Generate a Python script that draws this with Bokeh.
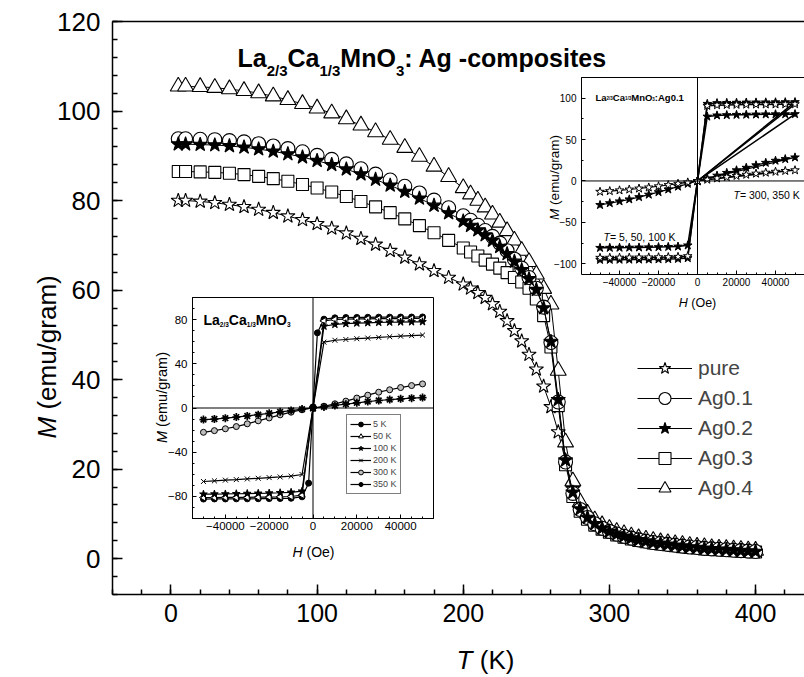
import math
from bokeh.plotting import figure
from bokeh.models import Range1d, FixedTicker, LinearAxis, Label, Legend, LegendItem, Span
from bokeh.embed import file_html
from bokeh.resources import INLINE

FONT = "Liberation Sans"

# ---------------- main plot data: M(T) ----------------
T_K = [5, 10, 20, 30, 40, 50, 60, 70, 80, 90, 100, 110, 120, 130, 140, 150, 160, 170, 180, 190, 200,
       205, 210, 215, 220, 225, 230, 235, 240, 245, 250,
       255, 260, 265, 270, 275, 280, 285, 290, 295, 300,
       305, 310, 315, 320, 325, 330, 335, 340, 345, 350,
       355, 360, 365, 370, 375, 380, 385, 390, 395, 400]

M_pure = [80.0, 80.0, 79.8, 79.5, 79.1, 78.6, 78.0, 77.3, 76.5, 75.7, 74.8, 73.8, 72.7, 71.5, 70.2, 68.8, 67.3, 65.8, 64.3, 62.8, 61.3,
          60.4, 59.4, 58.3, 56.9, 55.2, 53.1, 50.9, 48.6, 45.6, 42.3,
          38.5, 33.9, 28.3, 21.8, 15.6, 11.4, 9.1, 7.7, 6.7, 6.0,
          5.4, 4.9, 4.5, 4.1, 3.8, 3.5, 3.3, 3.1, 2.9, 2.7,
          2.5, 2.4, 2.2, 2.1, 2.0, 1.9, 1.8, 1.7, 1.6, 1.5]
M_ag01 = [93.8, 93.8, 93.7, 93.6, 93.4, 93.1, 92.7, 92.2, 91.6, 90.9, 90.1, 89.2, 88.2, 87.1, 85.9, 84.6, 83.2, 81.7, 80.1, 78.4, 76.6,
          75.6, 74.5, 73.3, 72.0, 70.5, 68.8, 66.9, 64.9, 62.8, 60.4,
          56.2, 48.3, 35.0, 21.6, 14.6, 11.0, 9.2, 7.8, 6.8, 6.1,
          5.5, 5.0, 4.6, 4.2, 3.9, 3.6, 3.4, 3.2, 3.0, 2.8,
          2.6, 2.5, 2.3, 2.2, 2.1, 2.0, 1.9, 1.8, 1.7, 1.6]
M_ag02 = [92.6, 92.6, 92.5, 92.4, 92.2, 91.9, 91.5, 91.0, 90.4, 89.7, 88.9, 88.0, 87.0, 85.9, 84.7, 83.4, 82.0, 80.5, 78.9, 77.2, 75.4,
          74.4, 73.4, 72.3, 71.1, 69.7, 68.1, 66.4, 64.5, 62.5, 60.1,
          56.0, 48.5, 35.5, 22.0, 14.8, 11.1, 9.2, 7.8, 6.8, 6.1,
          5.5, 5.0, 4.6, 4.2, 3.9, 3.6, 3.4, 3.2, 3.0, 2.8,
          2.6, 2.5, 2.3, 2.2, 2.1, 2.0, 1.9, 1.8, 1.7, 1.6]
M_ag03 = [86.5, 86.5, 86.4, 86.3, 86.1, 85.8, 85.4, 84.9, 84.3, 83.6, 82.8, 81.9, 80.9, 79.8, 78.6, 77.3, 75.9, 74.4, 72.8, 71.1, 69.4,
          68.5, 67.6, 66.7, 65.8, 64.9, 63.9, 62.8, 61.8, 60.4, 58.0,
          54.3, 47.3, 34.2, 21.0, 13.9, 10.6, 8.8, 7.5, 6.6, 5.9,
          5.3, 4.8, 4.4, 4.1, 3.8, 3.5, 3.3, 3.1, 2.9, 2.7,
          2.5, 2.4, 2.2, 2.1, 2.0, 1.9, 1.8, 1.7, 1.6, 1.5]
M_ag04 = [105.5, 105.5, 105.4, 105.2, 104.9, 104.5, 104.0, 103.3, 102.5, 101.6, 100.6, 99.5, 98.2, 96.8, 95.3, 93.6, 91.8, 89.8, 87.6, 85.3, 82.8,
          81.4, 80.0, 78.5, 76.9, 75.1, 73.2, 71.1, 68.8, 66.3, 63.5,
          60.3, 56.8, 42.0, 26.0, 17.3, 12.6, 10.1, 8.6, 7.5, 6.7,
          6.0, 5.5, 5.0, 4.6, 4.3, 4.0, 3.7, 3.5, 3.3, 3.1,
          2.9, 2.7, 2.6, 2.4, 2.3, 2.2, 2.1, 2.0, 1.9, 1.8]
series_names = ["pure", "Ag0.1", "Ag0.2", "Ag0.3", "Ag0.4"]
main_x_ticks = [0, 100, 200, 300, 400]
main_y_ticks = [0, 20, 40, 60, 80, 100, 120]

# ---------------- inset 1 data: pure sample M(H) ----------------
H1_5K = [-50000, -45000, -40000, -35000, -30000, -25000, -20000, -15000, -10000, -5000, -2000, 0,
         2000, 5000, 10000, 15000, 20000, 25000, 30000, 35000, 40000, 45000, 50000]
M1_5K = [-82.4, -82.3, -82.3, -82.2, -82.2, -82.1, -82.0, -81.9, -81.7, -80.4, -68.0, 1.0,
         68.0, 80.4, 81.6, 81.9, 82.0, 82.1, 82.2, 82.2, 82.3, 82.3, 82.4]
H1 = [-50000, -45000, -40000, -35000, -30000, -25000, -20000, -15000, -10000, -5000, 0,
      5000, 10000, 15000, 20000, 25000, 30000, 35000, 40000, 45000, 50000]
M1_50K = [-81.0, -81.0, -80.9, -80.9, -80.8, -80.7, -80.6, -80.4, -80.1, -78.8, 0.0,
          78.8, 80.1, 80.4, 80.6, 80.7, 80.8, 80.9, 80.9, 81.0, 81.0]
M1_100K = [-78.0, -77.9, -77.8, -77.6, -77.4, -77.2, -77.0, -76.7, -76.3, -75.3, 0.0,
           74.0, 75.6, 76.3, 76.8, 77.1, 77.4, 77.6, 77.8, 77.9, 78.0]
M1_200K = [-66.5, -65.9, -65.3, -64.8, -64.2, -63.6, -63.0, -62.4, -61.7, -60.2, 0.0,
           59.6, 61.3, 62.0, 62.7, 63.3, 63.9, 64.5, 65.0, 65.5, 66.0]
M1_300K = [-22.0, -20.5, -18.8, -16.8, -14.3, -11.6, -9.0, -6.2, -3.8, -1.6, 0.0,
           1.6, 3.8, 6.2, 9.0, 11.6, 14.3, 16.5, 18.5, 20.3, 21.8]
M1_350K = [-10.5, -10.0, -9.2, -8.2, -7.2, -6.0, -4.8, -3.5, -2.3, -1.0, 0.0,
           1.0, 2.3, 3.5, 4.7, 5.8, 6.8, 7.6, 8.3, 8.9, 9.4]
inset1_labels = ["5 K", "50 K", "100 K", "200 K", "300 K", "350 K"]
inset1_x_ticks = [-40000, -20000, 0, 20000, 40000]
inset1_y_ticks = [-80, -40, 0, 40, 80]

# ---------------- inset 2 data: Ag0.1 sample M(H) ----------------
H2 = [0, 50000, 45000, 40000, 35000, 30000, 25000, 20000, 15000, 10000, 5000, 0,
      -5000, -10000, -15000, -20000, -25000, -30000, -35000, -40000, -45000, -50000]
M2_5K = [0.0, 95.3, 95.2, 95.1, 95.0, 94.9, 94.8, 94.6, 94.4, 94.1, 93.2, 0.0,
         -93.2, -94.1, -94.4, -94.6, -94.8, -94.9, -95.0, -95.1, -95.2, -95.3]
M2_50K = [0.0, 92.8, 92.7, 92.6, 92.5, 92.4, 92.3, 92.1, 91.9, 91.6, 90.8, 0.0,
          -90.8, -91.6, -91.9, -92.1, -92.3, -92.4, -92.5, -92.6, -92.7, -92.8]
M2_100K = [0.0, 80.8, 80.7, 80.6, 80.5, 80.3, 80.1, 79.9, 79.6, 79.2, 77.8, 0.0,
           -77.8, -79.2, -79.6, -79.9, -80.1, -80.3, -80.5, -80.6, -80.7, -80.8]
M2_300K = [0.0, 28.5, 26.5, 24.5, 22.0, 19.0, 16.0, 13.0, 9.8, 6.5, 3.2, 0.0,
           -3.4, -6.8, -10.2, -13.5, -16.5, -19.5, -22.2, -24.6, -26.8, -29.0]
M2_350K = [0.0, 13.0, 12.2, 11.2, 10.1, 8.9, 7.6, 6.2, 4.7, 3.2, 1.6, 0.0,
           -1.7, -3.3, -4.9, -6.4, -7.8, -9.1, -10.3, -11.3, -12.2, -13.0]
inset2_x_ticks = [-40000, -20000, 0, 20000, 40000]
inset2_y_ticks = [-100, -50, 0, 50, 100]

# ---------------- text helpers ----------------
W_REG = {' ': 278, '(': 333, ')': 333, '/': 278, ',': 278, '.': 278, '=': 584, '-': 333, ':': 278,
         'M': 833, 'T': 611, 'K': 667, 'H': 722, 'O': 778, 'e': 556, 'm': 833, 'u': 556, 'g': 556,
         'r': 333, 'a': 556}
W_BOLD = {' ': 278, '/': 278, '.': 278, ':': 333, '-': 333, 'L': 611, 'a': 556, 'C': 722, 'M': 833,
          'n': 611, 'O': 778, 'A': 722, 'g': 611, 'c': 556, 'o': 611, 'm': 889, 'p': 611, 's': 556,
          'i': 278, 't': 333, 'e': 556}


def text_width(s, size, bold=False):
    tbl = W_BOLD if bold else W_REG
    return sum(tbl.get(c, 556) for c in s) / 1000.0 * size


def style_axis(ax, size, standoff, tin, tmin, lw):
    ax.axis_line_color = "black"
    ax.axis_line_width = lw
    ax.major_tick_line_color = "black"
    ax.major_tick_line_width = lw
    ax.minor_tick_line_color = "black"
    ax.minor_tick_line_width = lw
    ax.major_tick_in = tin
    ax.major_tick_out = 0
    ax.minor_tick_in = tmin
    ax.minor_tick_out = 0
    ax.major_label_text_font = FONT
    ax.major_label_text_font_size = f"{size}px"
    ax.major_label_text_color = "black"
    ax.major_label_standoff = standoff


def plain_line_axis(lw):
    return LinearAxis(ticker=FixedTicker(ticks=[]), major_label_text_font_size="0px",
                      major_tick_in=0, major_tick_out=0, minor_tick_in=0, minor_tick_out=0,
                      major_label_standoff=0, axis_line_width=lw, axis_line_color="black")


# ---------------- main figure ----------------
p = figure(width=804, height=677, x_range=Range1d(-40, 433.5), y_range=Range1d(-8, 120),
           output_backend="svg", toolbar_location=None,
           min_border_left=112, min_border_right=0, min_border_top=21, min_border_bottom=83)
p.grid.visible = False
p.outline_line_color = None
p.background_fill_color = "white"
p.border_fill_color = "white"
p.xaxis.ticker = FixedTicker(ticks=main_x_ticks, minor_ticks=list(range(-40, 441, 20)))
p.yaxis.ticker = FixedTicker(ticks=main_y_ticks, minor_ticks=list(range(-8, 121, 4)))
style_axis(p.xaxis[0], 25, 9, 10, 5, 1.5)
style_axis(p.yaxis[0], 26, 12, 10, 5, 1.5)
p.add_layout(plain_line_axis(1.5), "above")

marker_specs = [
    dict(marker="star", size=15, fill_color="white"),
    dict(marker="circle", size=14, fill_color="white"),
    dict(marker="star", size=15, fill_color="black"),
    dict(marker="square", size=12, fill_color="white"),
    dict(marker="triangle", size=16, fill_color="white"),
]
main_series = [M_pure, M_ag01, M_ag02, M_ag03, M_ag04]
items = {}
for idx in [0, 4, 3, 1, 2]:
    ys = main_series[idx]
    spec = marker_specs[idx]
    ln = p.line(T_K, ys, line_color="black", line_width=1)
    sc = p.scatter(T_K, ys, marker=spec["marker"], size=spec["size"], fill_color=spec["fill_color"],
                   line_color="black", line_width=1.1)
    items[idx] = LegendItem(label=series_names[idx], renderers=[ln, sc])
leg = Legend(items=[items[i] for i in range(5)], location=(525, 91), glyph_width=55, glyph_height=30,
             label_height=30, spacing=0, padding=0, margin=0, label_standoff=6,
             label_text_font=FONT, label_text_font_size="21px", border_line_color=None,
             background_fill_alpha=0)
p.add_layout(leg)

# ---------------- inset 1 ----------------
i1 = figure(width=289, height=260, x_range=Range1d(-55000, 55000), y_range=Range1d(-100, 100),
            output_backend="svg", toolbar_location=None,
            min_border_left=45, min_border_right=3, min_border_top=2, min_border_bottom=37)
i1.styles = {"position": "absolute", "left": "147px", "top": "295px"}
i1.grid.visible = False
i1.outline_line_color = "black"
i1.outline_line_width = 1
i1.background_fill_color = "white"
i1.border_fill_color = None
i1.xaxis.ticker = FixedTicker(ticks=inset1_x_ticks, minor_ticks=list(range(-55000, 55001, 5000)))
i1.yaxis.ticker = FixedTicker(ticks=inset1_y_ticks, minor_ticks=list(range(-100, 101, 10)))
style_axis(i1.xaxis[0], 11.5, 3, 4, 2, 1)
style_axis(i1.yaxis[0], 11.5, 5, 4, 2, 1)
i1.add_layout(Span(location=0, dimension="height", line_color="black", line_width=1))
i1.add_layout(Span(location=0, dimension="width", line_color="black", line_width=1))

ins1_sets = [
    (H1_5K, M1_5K, dict(marker="circle", size=6, fill_color="black", angle=0, lw=1)),
    (H1, M1_50K, dict(marker="triangle", size=7, fill_color="white", angle=math.pi / 2, lw=1)),
    (H1, M1_100K, dict(marker="star", size=8, fill_color="black", angle=0, lw=1)),
    (H1, M1_200K, dict(marker="x", size=7, fill_color="white", angle=0, lw=1)),
    (H1, M1_300K, dict(marker="circle", size=6, fill_color="#bdbdbd", angle=0, lw=1)),
    (H1, M1_350K, dict(marker="asterisk", size=8, fill_color="black", angle=0, lw=1.7)),
]
leg1_items = []
for (hx, my, spec), lab in zip(ins1_sets, inset1_labels):
    ln = i1.line(hx, my, line_color="black", line_width=1.2)
    sc = i1.scatter(hx, my, marker=spec["marker"], size=spec["size"], fill_color=spec["fill_color"],
                    line_color="black", line_width=spec["lw"], angle=spec["angle"])
    leg1_items.append(LegendItem(label=lab, renderers=[ln, sc]))
leg1 = Legend(items=leg1_items, location=(154, 24), glyph_width=21, glyph_height=12, label_height=12,
              spacing=0, padding=3, margin=0, label_standoff=2, label_text_font=FONT,
              label_text_font_size="9px", border_line_color="black", border_line_width=1,
              background_fill_color="white")
i1.add_layout(leg1)

# ---------------- inset 2 ----------------
i2 = figure(width=263, height=232, x_range=Range1d(-59500, 54870), y_range=Range1d(-113, 125),
            output_backend="svg", toolbar_location=None,
            min_border_left=40, min_border_right=0, min_border_top=2, min_border_bottom=33)
i2.styles = {"position": "absolute", "left": "541px", "top": "75px"}
i2.grid.visible = False
i2.outline_line_color = None
i2.background_fill_color = "white"
i2.border_fill_color = None
i2.xaxis.ticker = FixedTicker(ticks=inset2_x_ticks, minor_ticks=list(range(-55000, 55001, 5000)))
i2.yaxis.ticker = FixedTicker(ticks=inset2_y_ticks, minor_ticks=list(range(-100, 126, 25)))
style_axis(i2.xaxis[0], 10, 3, 4, 2, 1)
style_axis(i2.yaxis[0], 10, 5, 4, 2, 1)
i2.add_layout(plain_line_axis(1), "above")
i2.add_layout(Span(location=0, dimension="height", line_color="black", line_width=1))
i2.add_layout(Span(location=0, dimension="width", line_color="black", line_width=1))

ins2_sets = [
    (M2_5K, "black", 1.5), (M2_50K, "white", 1.5), (M2_100K, "black", 1.5),
    (M2_300K, "black", 1.2), (M2_350K, "white", 1.2),
]
for my, fc, lw in ins2_sets:
    i2.line(H2, my, line_color="black", line_width=lw)
    i2.scatter(H2[1:], my[1:], marker="star", size=9, fill_color=fc, line_color="black", line_width=1)

# ---------------- transparent text layer (page pixel coordinates) ----------------
tx = figure(width=804, height=677, x_range=Range1d(0, 804), y_range=Range1d(677, 0),
            output_backend="svg", toolbar_location=None, x_axis_location=None, y_axis_location=None,
            min_border_left=0, min_border_right=0, min_border_top=0, min_border_bottom=0)
tx.styles = {"position": "absolute", "left": "0px", "top": "0px"}
tx.grid.visible = False
tx.outline_line_color = None
tx.background_fill_color = None
tx.border_fill_color = None


def put_runs(px, py, runs, angle=0.0):
    cur = px if angle == 0 else py
    for text, size, style, dpy in runs:
        bold = "bold" in style
        lead = len(text) - len(text.lstrip(" "))
        adv0 = text_width(" " * lead, size, bold)
        cur = cur + adv0 if angle == 0 else cur - adv0
        body = text.lstrip(" ")
        if angle == 0:
            x, y = cur, py + dpy
        else:
            x, y = px + dpy, cur
        tx.add_layout(Label(x=x, y=y, text=body, angle=angle, text_font=FONT,
                            text_font_size=f"{size}px", text_font_style=style,
                            text_color="black", text_align="left",
                            text_baseline="alphabetic"))
        w = text_width(body, size, bold)
        if angle == 0:
            cur += w
        else:
            cur -= w


# main title La2/3Ca1/3MnO3: Ag -composites
put_runs(237, 57, [("La", 25, "bold", 0), ("2/3", 15, "bold", 13), ("Ca", 25, "bold", 0),
                   ("1/3", 15, "bold", 13), ("MnO", 25, "bold", 0), ("3", 15, "bold", 13),
                   (": Ag -composites", 25, "bold", 0)])
# main axis titles
tk_w = text_width("T (K)", 26)
put_runs(485 - tk_w / 2, 659, [("T", 26, "italic", 0), (" (K)", 26, "normal", 0)])
put_runs(46, 438, [("M", 26, "italic", 0), (" (emu/gram)", 26, "normal", 0)], angle=math.pi / 2)

# inset 1 texts
put_runs(203, 319, [("La", 14, "bold", 0), ("2/3", 6.5, "bold", 4.5), ("Ca", 14, "bold", 0),
                    ("1/3", 6.5, "bold", 4.5), ("MnO", 14, "bold", 0), ("3", 6.5, "bold", 4.5)])
h_w = text_width("H (Oe)", 14)
put_runs(313 - h_w / 2, 551, [("H", 14, "italic", 0), (" (Oe)", 14, "normal", 0)])
m1_w = text_width("M (emu/gram)", 14.5)
put_runs(161, 397 + m1_w / 2, [("M", 14.5, "italic", 0), (" (emu/gram)", 14.5, "normal", 0)],
         angle=math.pi / 2)

# inset 2 texts
put_runs(595, 96.5, [("La", 9.5, "bold", 0), ("2/3", 4.5, "bold", 1.5), ("Ca", 9.5, "bold", 0),
                     ("1/3", 4.5, "bold", 1.5), ("MnO", 9.5, "bold", 0), ("3", 4.5, "bold", 1.5),
                     (":Ag0.1", 9.5, "bold", 0)])
put_runs(733, 194, [("T", 10.5, "italic", 0), ("= 300, 350 K", 10.5, "normal", 0)])
put_runs(603, 236, [("T", 10.5, "italic", 0), ("= 5, 50, 100 K", 10.5, "normal", 0)])
h2_w = text_width("H (Oe)", 12.5)
put_runs(697 - h2_w / 2, 302, [("H", 12.5, "italic", 0), (" (Oe)", 12.5, "normal", 0)])
m2_w = text_width("M (emu/gram)", 13.5)
put_runs(554, 177 + m2_w / 2, [("M", 13.5, "italic", 0), (" (emu/gram)", 13.5, "normal", 0)],
         angle=math.pi / 2)

open("out.html", "w").write(file_html([p, i1, i2, tx], INLINE))
